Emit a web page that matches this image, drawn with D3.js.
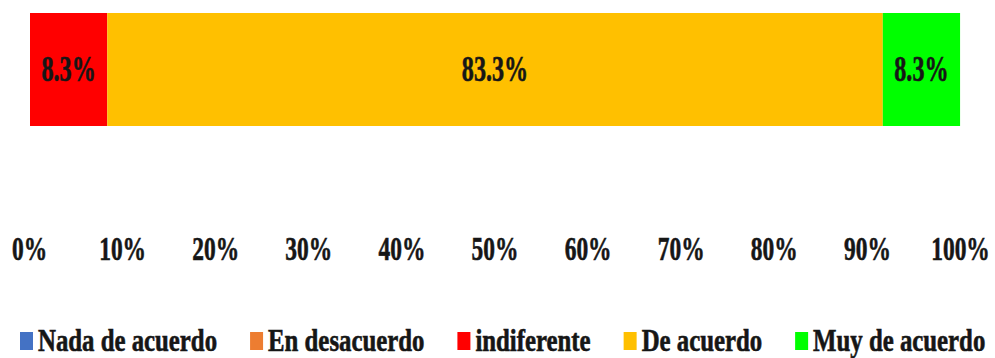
<!DOCTYPE html>
<html>
<head>
<meta charset="utf-8">
<script src="https://cdn.jsdelivr.net/npm/d3@7"></script>
<style>
  html, body { margin: 0; padding: 0; background: #fff; }
  svg { display: block; }
</style>
</head>
<body>
<svg id="chart" width="995" height="358"></svg>
<script>
// Response categories (legend order) and their share of answers, in %
const categories = ["Nada de acuerdo", "En desacuerdo", "indiferente", "De acuerdo", "Muy de acuerdo"];
const values = [0, 0, 8.3, 83.3, 8.3];
const colors = ["#4472C4", "#ED7D31", "#FF0000", "#FFC000", "#00FF00"];
const tickValues = [0, 10, 20, 30, 40, 50, 60, 70, 80, 90, 100];

const FONT = "'Liberation Serif', 'Times New Roman', Times, serif";
const INK = "#161616";

const svg = d3.select("#chart");
const W = 995;
const margin = { left: 30, right: 34, top: 13 };
const barHeight = 113;
const numScaleX = 0.69;   // condensed look of the numeric labels
const legendScaleX = 0.8;

function styleText(sel, size) {
  return sel
    .attr("font-family", FONT)
    .attr("font-weight", "bold")
    .attr("font-size", size)
    .attr("fill", INK)
    .attr("stroke", INK)
    .attr("stroke-width", 0.6);
}

const row = { group: "all" };
categories.forEach((c, i) => { row[c] = values[i]; });
const stacked = d3.stack().keys(categories)([row]);

const x = d3.scaleLinear().domain([0, 100]).range([margin.left, W - margin.right]);
const color = d3.scaleOrdinal().domain(categories).range(colors);

// stacked bar segments
const seg = svg.append("g").selectAll("g")
  .data(stacked.filter(s => s[0][1] - s[0][0] > 0))
  .join("g");

seg.append("rect")
  .attr("x", d => x(d[0][0]))
  .attr("y", margin.top)
  .attr("width", d => x(d[0][1]) - x(d[0][0]))
  .attr("height", barHeight)
  .attr("fill", d => color(d.key));

styleText(seg.append("text"), 35)
  .attr("transform", d => `translate(${(x(d[0][0]) + x(d[0][1])) / 2},${margin.top + barHeight / 2 + 11}) scale(${numScaleX},1)`)
  .attr("text-anchor", "middle")
  .text(d => d3.format(".1f")(d[0][1] - d[0][0]) + "%");

// x axis tick labels (no axis line or tick marks)
const axis = d3.axisBottom(x).tickValues(tickValues).tickFormat(d => d + "%").tickSize(0);
const axisG = svg.append("g").attr("transform", "translate(0,236)").call(axis);
axisG.select(".domain").remove();
axisG.attr("font-family", null).attr("font-size", null);
styleText(axisG.selectAll(".tick text"), 34)
  .attr("dy", null)
  .attr("y", null)
  .attr("text-anchor", "middle")
  .attr("transform", `translate(-1,24) scale(${numScaleX},1)`);

// legend
const legend = svg.append("g").attr("transform", "translate(20,332)");
let lx = 0;
categories.forEach((c, i) => {
  const item = legend.append("g").attr("transform", `translate(${lx},0)`);
  item.append("rect").attr("width", 13).attr("height", 18).attr("fill", colors[i]);
  const t = styleText(item.append("text"), 31)
    .attr("transform", `translate(18,18.5) scale(${legendScaleX},1)`)
    .text(c);
  lx += 18 + t.node().getComputedTextLength() * legendScaleX + 33;
});
</script>
</body>
</html>
